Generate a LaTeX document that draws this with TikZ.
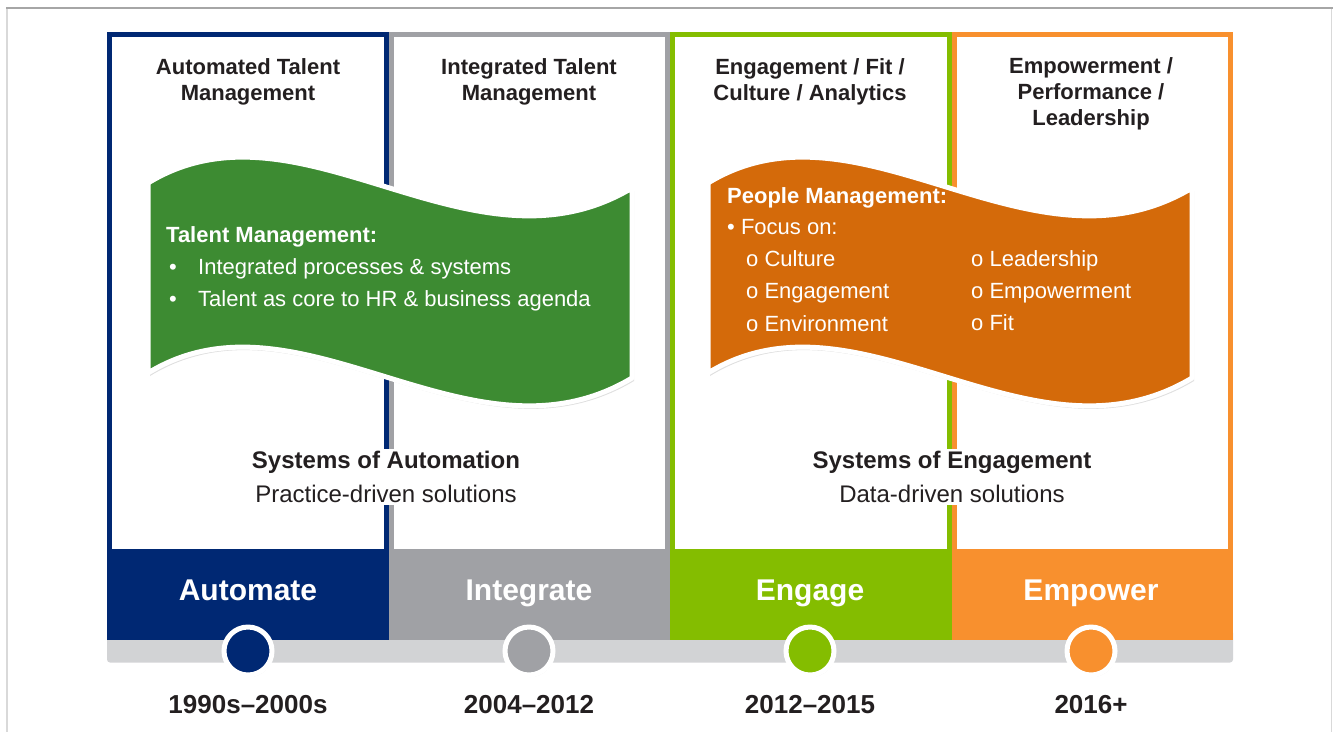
\documentclass[tikz,border=0pt]{standalone}
\usepackage{fontspec}
\setmainfont{Liberation Sans}
\usetikzlibrary{shadows}
\definecolor{navy1}{RGB}{0,40,115}
\definecolor{gray1}{RGB}{160,161,165}
\definecolor{lime1}{RGB}{132,189,0}
\definecolor{orange1}{RGB}{248,144,46}
\definecolor{green1}{RGB}{61,139,50}
\definecolor{rust1}{RGB}{212,106,10}
\definecolor{bar1}{RGB}{210,211,213}
\definecolor{txt1}{RGB}{35,31,32}

\tikzset{
  head/.style={text=txt1,align=center,font=\bfseries\fontsize{22}{26}\selectfont},
  band/.style={text=white,anchor=base,font=\bfseries\fontsize{30}{36}\selectfont},
  year/.style={text=txt1,anchor=base,font=\bfseries\fontsize{26}{30}\selectfont},
  dot/.style={circle,draw=white,line width=5pt,minimum size=48pt,inner sep=0pt,
    drop shadow={opacity=0.3,shadow xshift=1pt,shadow yshift=-2pt}},
  flag/.style={draw=white,line width=5pt,line join=round,
    drop shadow={opacity=0.25,shadow xshift=2pt,shadow yshift=-3pt}},
  btxt/.style={text=white,anchor=base west,inner sep=0pt,font=\fontsize{22}{26}\selectfont},
  sys/.style={fill=white,text=txt1,align=center,font=\fontsize{24}{34}\selectfont,inner sep=2pt}
}

\begin{document}
\begin{tikzpicture}[x=1pt,y=-1pt]
\useasboundingbox (0,0) rectangle (1333,732);

\def\xa{107}
\def\xb{388.5}
\def\xc{670}
\def\xd{951.5}
\def\pw{281.5}

% frame
\draw[black!15,line width=1.5pt] (7,8) -- (7,732);
\draw[black!15,line width=1.5pt] (1331.5,8) -- (1331.5,732);
\draw[black!35,line width=1.2pt] (6.25,8) -- (1333,8);

% panels
\draw[navy1,line width=5pt] (\xa+2.5,549) -- (\xa+2.5,34.5) -- (\xa+\pw-2.5,34.5) -- (\xa+\pw-2.5,549);
\draw[gray1,line width=5pt] (\xb+2.5,549) -- (\xb+2.5,34.5) -- (\xb+\pw-2.5,34.5) -- (\xb+\pw-2.5,549);
\draw[lime1,line width=5pt] (\xc+2.5,549) -- (\xc+2.5,34.5) -- (\xc+\pw-2.5,34.5) -- (\xc+\pw-2.5,549);
\draw[orange1,line width=5pt] (\xd+2.5,549) -- (\xd+2.5,34.5) -- (\xd+\pw-2.5,34.5) -- (\xd+\pw-2.5,549);

% timeline bar
\fill[bar1,rounded corners=3pt] (107,630) rectangle (1233,662.5);

\fill[navy1] (\xa,549) rectangle (\xa+\pw,640);
\fill[gray1] (\xb,549) rectangle (\xb+\pw,640);
\fill[lime1] (\xc,549) rectangle (\xc+\pw,640);
\fill[orange1] (\xd,549) rectangle (\xd+\pw,640);

\node[band] (auto) at (248,600) {Automate};
\node[band] (integ) at (529,600) {Integrate};
\node[band] (engag) at (810,600) {Engage};
\node[band] (empow) at (1091,600) {Empower};

\node[dot,fill=navy1] (c1) at (248,651) {};
\node[dot,fill=gray1] (c2) at (529,651) {};
\node[dot,fill=lime1] (c3) at (810,651) {};
\node[dot,fill=orange1] (c4) at (1091,651) {};

\node[year] (y1) at (248,713) {1990s--2000s};
\node[year] (y2) at (529,713) {2004--2012};
\node[year] (y3) at (810,713) {2012--2015};
\node[year] (y4) at (1091,713) {2016+};

\node[head] (h1) at (248,82) {Automated Talent\\Management};
\node[head] (h2) at (529,82) {Integrated Talent\\Management};
\node[head] (h3) at (810,82) {Engagement / Fit /\\Culture / Analytics};
\node[head] (h4) at (1091,94) {Empowerment /\\Performance /\\Leadership};

% banners
\path[flag,fill=green1] (148,183) .. controls (300,90) and (470,285) .. (632,188) -- (632,378)
  .. controls (470,475) and (300,280) .. (148,373) -- cycle;
\path[flag,fill=rust1] (708,183) .. controls (860,90) and (1030,285) .. (1192,188) -- (1192,378)
  .. controls (1030,475) and (860,280) .. (708,373) -- cycle;

\node[btxt,font=\bfseries\fontsize{22}{26}\selectfont] (tm) at (166,242) {Talent Management:};
\node[btxt] (tm1) at (169,274) {\makebox[29pt][l]{•}Integrated processes \& systems};
\node[btxt] (tm2) at (169,306) {\makebox[29pt][l]{•}Talent as core to HR \& business agenda};

\node[btxt,font=\bfseries\fontsize{22}{26}\selectfont] (pm) at (727,203) {People Management:};
\node[btxt] (pm0) at (727,234) {• Focus on:};
\node[btxt] (pm1) at (746,266) {o Culture};
\node[btxt] (pm2) at (746,298) {o Engagement};
\node[btxt] (pm3) at (746,331) {o Environment};
\node[btxt] (pm4) at (971,266) {o Leadership};
\node[btxt] (pm5) at (971,298) {o Empowerment};
\node[btxt] (pm6) at (971,330) {o Fit};

\node[sys] (soa) at (386,477) {\textbf{Systems of Automation}\\Practice-driven solutions};
\node[sys] (soe) at (952,477) {\textbf{Systems of Engagement}\\Data-driven solutions};
\end{tikzpicture}
\end{document}
